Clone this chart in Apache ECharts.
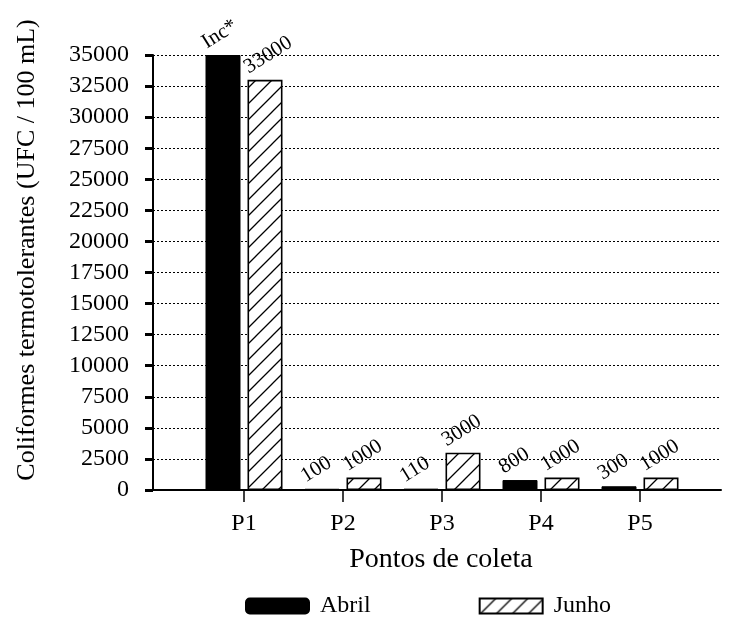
<!DOCTYPE html>
<html>
<head>
<meta charset="utf-8">
<script src="https://cdn.jsdelivr.net/npm/echarts@6/dist/echarts.min.js"></script>
<style>
  html, body { margin: 0; padding: 0; background: #fff; }
  #chart { width: 731px; height: 618px; }
</style>
</head>
<body>
<div id="chart"></div>
<script>
// Sampling points and fecal coliform counts for each campaign
const categories = ['P1', 'P2', 'P3', 'P4', 'P5'];
const abrilValues = [35000, 100, 110, 800, 300];
const abrilLabels = ['Inc*', '100', '110', '800', '300'];
const junhoValues = [33000, 1000, 3000, 1000, 1000];
const junhoLabels = ['33000', '1000', '3000', '1000', '1000'];
const seriesNames = ['Abril', 'Junho'];
const yMin = 0, yMax = 35000, yStep = 2500;

const FONT = "'Liberation Serif', 'Times New Roman', serif";

// Diagonal hatch fill used for the second series
function hatchPattern() {
  const s = 16;
  const c = document.createElement('canvas');
  c.width = s; c.height = s;
  const g = c.getContext('2d');
  g.fillStyle = '#fff';
  g.fillRect(0, 0, s, s);
  g.strokeStyle = '#000';
  g.lineWidth = 1.3;
  g.beginPath();
  g.moveTo(0, s); g.lineTo(s, 0);
  g.moveTo(-2, 2); g.lineTo(2, -2);
  g.moveTo(s - 2, s + 2); g.lineTo(s + 2, s - 2);
  g.stroke();
  return c;
}

const chart = echarts.init(document.getElementById('chart'), null, { renderer: 'canvas' });

const labelBase = {
  show: true,
  position: [4, -2],
  rotate: 32,
  align: 'left',
  verticalAlign: 'bottom',
  fontFamily: FONT,
  fontSize: 21,
  color: '#000'
};

const option = {
  animation: false,
  backgroundColor: '#fff',
  textStyle: { fontFamily: FONT, color: '#000' },
  grid: [
    { left: 153, right: 10, top: 55, bottom: 128 },
    { left: 194.5, right: 41.5, top: 55, bottom: 128 }
  ],
  xAxis: [
    {
      gridIndex: 0, type: 'category', data: [''],
      axisLine: { show: true, lineStyle: { color: '#000', width: 2 } },
      axisTick: { show: false }, axisLabel: { show: false }, splitLine: { show: false }
    },
    {
      gridIndex: 1, type: 'category', data: categories,
      axisLine: { show: false },
      axisTick: { show: true, alignWithLabel: true, length: 12, lineStyle: { color: '#000', width: 1.5 } },
      axisLabel: { fontFamily: FONT, fontSize: 24, color: '#000', margin: 22 }
    }
  ],
  yAxis: [
    {
      gridIndex: 0, type: 'value', min: yMin, max: yMax, interval: yStep,
      axisLine: { show: true, lineStyle: { color: '#000', width: 2 } },
      axisTick: { show: true, inside: false, length: 8, lineStyle: { color: '#000', width: 3 } },
      axisLabel: { fontFamily: FONT, fontSize: 24, color: '#000', margin: 24, formatter: v => String(v) },
      splitLine: { show: true, lineStyle: { color: '#000', type: [2, 2], width: 1 } }
    },
    {
      gridIndex: 1, type: 'value', min: yMin, max: yMax, interval: yStep,
      show: false
    }
  ],
  legend: {
    left: 245, top: 594, padding: 0,
    itemWidth: 63, itemHeight: 15, itemGap: 108,
    textStyle: { fontFamily: FONT, fontSize: 24, color: '#000', padding: [0, 0, 0, 6] },
    data: [
      { name: seriesNames[0], icon: 'roundRect' },
      { name: seriesNames[1], icon: 'rect' }
    ]
  },
  series: [
    {
      name: seriesNames[0], type: 'bar', xAxisIndex: 1, yAxisIndex: 1,
      data: abrilValues, barWidth: 35, barGap: '20%',
      itemStyle: { color: '#000', borderColor: '#000', borderWidth: 1 },
      label: Object.assign({}, labelBase, { formatter: p => abrilLabels[p.dataIndex] })
    },
    {
      name: seriesNames[1], type: 'bar', xAxisIndex: 1, yAxisIndex: 1,
      data: junhoValues, barWidth: 35, barGap: '20%',
      itemStyle: { color: { image: hatchPattern(), repeat: 'repeat' }, borderColor: '#000', borderWidth: 1.6 },
      label: Object.assign({}, labelBase, { formatter: p => junhoLabels[p.dataIndex] })
    }
  ],
  graphic: [
    {
      type: 'text', x: 27, y: 250, rotation: Math.PI / 2,
      style: {
        text: 'Coliformes termotolerantes (UFC / 100 mL)',
        font: '26px ' + FONT, fill: '#000',
        align: 'center', verticalAlign: 'middle'
      }
    },
    {
      type: 'text', x: 441, y: 560,
      style: {
        text: 'Pontos de coleta',
        font: '28px ' + FONT, fill: '#000',
        align: 'center', verticalAlign: 'middle'
      }
    }
  ]
};

chart.setOption(option);
</script>
</body>
</html>
